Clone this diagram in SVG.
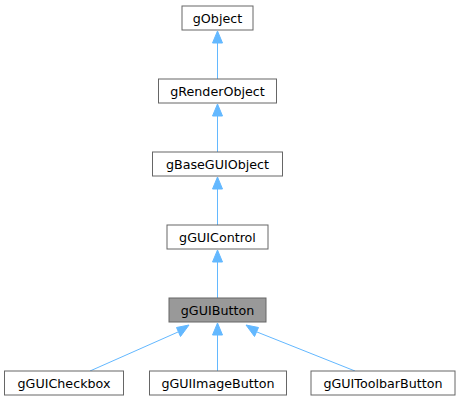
<svg xmlns="http://www.w3.org/2000/svg" width="461" height="403" viewBox="0 0 461 403">
<defs>
<style>
.node rect{fill:#ffffff;stroke:#666666;stroke-width:1}
.node.cur rect{fill:#999999}
.node text{font-family:"DejaVu Sans",sans-serif;font-size:12.7px;fill:#000000;text-anchor:middle}
.edges line{stroke:#63b8ff;stroke-width:1}
.edges polygon{fill:#63b8ff;stroke:#63b8ff}
</style>
</defs>
<rect width="461" height="403" fill="#ffffff"/>
<g class="edges">
<line x1="217.5" y1="79" x2="217.5" y2="42"/>
<polygon points="217.5,31 222.5,43 212.5,43"/>
<line x1="217.5" y1="152" x2="217.5" y2="115"/>
<polygon points="217.5,104 222.5,116 212.5,116"/>
<line x1="217.5" y1="225" x2="217.5" y2="188"/>
<polygon points="217.5,177 222.5,189 212.5,189"/>
<line x1="217.5" y1="298" x2="217.5" y2="261"/>
<polygon points="217.5,250 222.5,262 212.5,262"/>
<line x1="217.5" y1="371" x2="217.5" y2="334"/>
<polygon points="217.5,323 222.5,335 212.5,335"/>
<line x1="90" y1="371" x2="178" y2="332"/>
<polygon points="189,325 180.5,336.5 176.5,327.5"/>
<line x1="355" y1="371" x2="257" y2="332"/>
<polygon points="246,325 258.5,327.5 254.5,336.5"/>
</g>
<g id="gObject" class="node"><rect x="182" y="6" width="71" height="24"/><text x="217.5" y="22.5">gObject</text></g>
<g id="gRenderObject" class="node"><rect x="158.5" y="79" width="118" height="24"/><text x="217.5" y="95.5">gRenderObject</text></g>
<g id="gBaseGUIObject" class="node"><rect x="152.5" y="152" width="130" height="24"/><text x="217.5" y="168.5">gBaseGUIObject</text></g>
<g id="gGUIControl" class="node"><rect x="167" y="225" width="101" height="24"/><text x="217.5" y="241.5">gGUIControl</text></g>
<g id="gGUIButton" class="node cur"><rect x="169" y="298" width="97" height="24"/><text x="217.5" y="314.5">gGUIButton</text></g>
<g id="gGUICheckbox" class="node"><rect x="4.5" y="371" width="119" height="24"/><text x="64" y="387.5">gGUICheckbox</text></g>
<g id="gGUIImageButton" class="node"><rect x="149.5" y="371" width="137" height="24"/><text x="218" y="387.5">gGUIImageButton</text></g>
<g id="gGUIToolbarButton" class="node"><rect x="311" y="371" width="144" height="24"/><text x="383" y="387.5">gGUIToolbarButton</text></g>
</svg>
